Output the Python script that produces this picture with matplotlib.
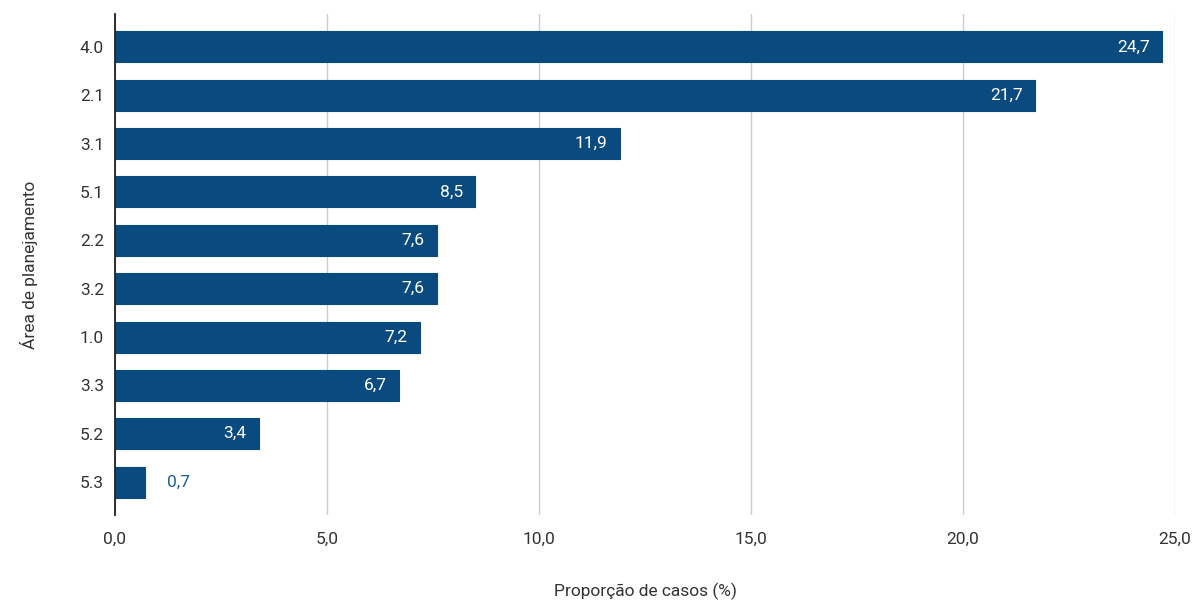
import matplotlib
matplotlib.use("Agg")
import matplotlib.pyplot as plt

categories = ["4.0", "2.1", "3.1", "5.1", "2.2", "3.2", "1.0", "3.3", "5.2", "5.3"]
values = [24.7, 21.7, 11.9, 8.5, 7.6, 7.6, 7.2, 6.7, 3.4, 0.7]
xticks = [0, 5, 10, 15, 20, 25]

plt.rcParams['font.family'] = ['Roboto', 'DejaVu Sans']
BAR = "#0b4a7e"
TXT = "#333333"

fig = plt.figure(figsize=(11.97, 6.05), dpi=100)
ax = fig.add_axes([115/1197, 90/605, (1175-115)/1197, (591-90)/605])

pos = list(range(len(categories)))
bars = ax.barh(pos, values, height=0.64, color=BAR, edgecolor=BAR,
               linewidth=0.8, zorder=3)
for b in bars:
    b.set_joinstyle('round')

ax.set_ylim(len(categories) - 1 + 0.68, -0.68)
ax.set_xlim(0, 25)
ax.set_yticks(pos)
ax.set_yticklabels(categories)
ax.set_xticks(xticks)
ax.set_xticklabels([f"{t:.1f}".replace(".", ",") for t in xticks])
ax.tick_params(axis='both', length=0, labelsize=12.5, colors=TXT, pad=12)
ax.tick_params(axis='y', pad=8)

ax.grid(axis='x', color="#cccccc", linewidth=1, zorder=0)
for s in ["top", "right", "bottom"]:
    ax.spines[s].set_visible(False)
ax.spines["left"].set_color("#222222")
ax.spines["left"].set_linewidth(1.3)
ax.spines["left"].set_zorder(4)

for p, v in zip(pos, values):
    lab = f"{v:.1f}".replace(".", ",")
    if v > 2:
        ax.annotate(lab, (v, p), xytext=(-9, 0), textcoords="offset points",
                    ha="right", va="center", color="white", fontsize=12.5, zorder=5)
    else:
        ax.annotate(lab, (v, p), xytext=(16, 0), textcoords="offset points",
                    ha="left", va="center", color="#1f5f91", fontsize=12.5, zorder=5)

ax.set_xlabel("Proporção de casos (%)", fontsize=12.5, color=TXT, labelpad=26)
ax.set_ylabel("Área de planejamento", fontsize=12.5, color=TXT, labelpad=30)

fig.savefig("out.png", dpi=100, facecolor="white")
